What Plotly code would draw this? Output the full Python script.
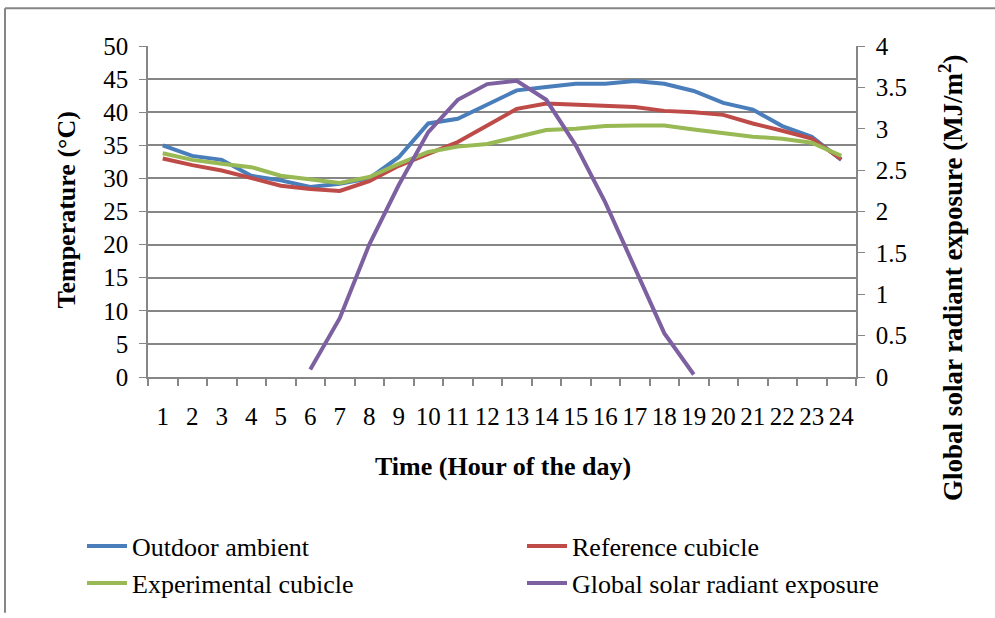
import plotly.graph_objects as go

hours = [str(h) for h in range(1, 25)]
outdoor = [35.0, 33.4, 32.8, 30.4, 29.7, 28.7, 29.2, 30.0, 33.2, 38.3, 39.0, 41.1,
           43.3, 43.8, 44.3, 44.3, 44.7, 44.3, 43.2, 41.4, 40.4, 37.9, 36.3, 32.8]
reference = [33.0, 32.0, 31.2, 30.1, 28.9, 28.4, 28.1, 29.6, 31.9, 33.7, 35.5, 38.0,
             40.5, 41.3, 41.1, 41.0, 40.8, 40.2, 40.0, 39.6, 38.3, 37.2, 36.0, 32.9]
experimental = [33.8, 32.8, 32.2, 31.7, 30.4, 29.9, 29.3, 30.2, 32.2, 34.0, 34.8, 35.2,
                36.3, 37.3, 37.5, 37.9, 38.0, 38.0, 37.4, 36.8, 36.3, 36.0, 35.4, 33.4]
solar_hours = [str(h) for h in range(6, 20)]
solar = [0.09, 0.71, 1.6, 2.32, 2.96, 3.35, 3.54, 3.58, 3.35, 2.8, 2.11, 1.32, 0.53, 0.03]

FONT = "Liberation Serif"
GRID = "#868686"

fig = go.Figure()
fig.add_trace(go.Scatter(x=hours, y=outdoor, name="Outdoor ambient", mode="lines",
                         line=dict(color="#4A7EBB", width=4), legend="legend", legendgroup="a"))
fig.add_trace(go.Scatter(x=hours, y=reference, name="Reference cubicle", mode="lines",
                         line=dict(color="#BE4B48", width=4), legend="legend2", legendgroup="b"))
fig.add_trace(go.Scatter(x=hours, y=experimental, name="Experimental cubicle", mode="lines",
                         line=dict(color="#98B954", width=4), legend="legend", legendgroup="c"))
fig.add_trace(go.Scatter(x=solar_hours, y=solar, name="Global solar radiant exposure", mode="lines",
                         line=dict(color="#7D60A0", width=4), yaxis="y2",
                         legend="legend2", legendgroup="d"))

W, H = 995, 618
L, R, T, B = 148, 856, 46, 380
pw, ph = R - L, B - T

def px(x):
    return (x - L) / pw

def py(y):
    return (B - y) / ph

leg_common = dict(orientation="v", xanchor="left", yanchor="top", itemwidth=40,
                  font=dict(family=FONT, size=26, color="black"), tracegroupgap=4,
                  bgcolor="rgba(0,0,0,0)", traceorder="normal")

ann_common = dict(xref="paper", yref="paper", xanchor="center", yanchor="middle", showarrow=False)

fig.update_layout(
    width=W, height=H,
    margin=dict(l=L, r=W - R, t=T, b=H - B),
    paper_bgcolor="white", plot_bgcolor="white",
    font=dict(family=FONT, size=25, color="black"),
    showlegend=True,
    legend=dict(x=px(82), y=py(527), **leg_common),
    legend2=dict(x=px(522), y=py(527), **leg_common),
    xaxis=dict(type="category", categoryorder="array", categoryarray=hours,
               tickmode="array", tickvals=hours, ticktext=hours, tickangle=0,
               tickson="boundaries", ticks="outside", ticklen=7, tickcolor=GRID, tickwidth=1.5,
               showline=True, linecolor=GRID, linewidth=1.5, showgrid=False,
               ticklabelstandoff=16, tickfont=dict(size=25), range=[-0.5, 23.5]),
    yaxis=dict(range=[0, 50], dtick=5, showgrid=True, gridcolor=GRID, gridwidth=1.5,
               showline=True, linecolor=GRID, linewidth=1.5, ticks="outside", ticklen=7,
               tickcolor=GRID, zeroline=False, tickfont=dict(size=25), ticklabelstandoff=6),
    yaxis2=dict(range=[0, 4], dtick=0.5, overlaying="y", side="right", showgrid=False,
                showline=True, linecolor=GRID, linewidth=1.5, ticks="outside", ticklen=7,
                tickcolor=GRID, zeroline=False, tickfont=dict(size=25), ticklabelstandoff=6),
    annotations=[
        dict(text="<b>Temperature (°C)</b>", x=px(67), y=py(212),
             textangle=-90, font=dict(size=26), **ann_common),
        dict(text="<b>Global solar radiant exposure (MJ/m<sup>2</sup>)</b>", x=px(951), y=py(280),
             textangle=-90, font=dict(size=27), **ann_common),
        dict(text="<b>Time (Hour of the day)</b>", x=px(503), y=py(470),
             font=dict(size=26), **ann_common),
    ],
    shapes=[
        dict(type="line", xref="paper", yref="paper", x0=px(5), x1=px(995), y0=py(8), y1=py(8),
             line=dict(color=GRID, width=2)),
        dict(type="line", xref="paper", yref="paper", x0=px(5), x1=px(5), y0=py(8), y1=py(618),
             line=dict(color=GRID, width=2)),
    ],
)

fig.write_html("out.html")
